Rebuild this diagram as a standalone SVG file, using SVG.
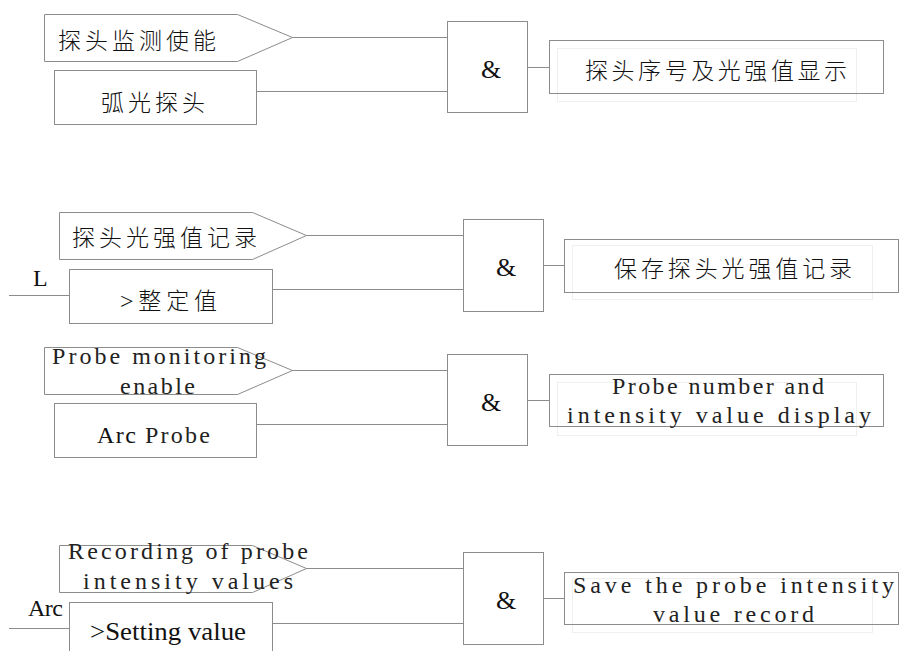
<svg xmlns="http://www.w3.org/2000/svg" width="899" height="651" viewBox="0 0 899 651">
<style>
.s{fill:#fff;stroke:#8c8c8c;stroke-width:1}
.f{fill:none;stroke:#efefef;stroke-width:1}
.w{fill:none;stroke:#8c8c8c;stroke-width:1}
.cn{font-family:"Noto Sans CJK SC","Noto Sans CJK TC",sans-serif;font-size:23px;font-weight:300;fill:#111}
.sr{font-family:"Liberation Serif","Times New Roman",serif;font-size:26px;fill:#111}
.mo{font-family:"Liberation Serif","Times New Roman",serif;font-size:24px;fill:#222}
</style>
<rect width="899" height="651" fill="#fff"/>
<g id="connectors">
<line class="w" x1="292" y1="37.5" x2="448" y2="37.5"/>
<line class="w" x1="256" y1="91.5" x2="448" y2="91.5"/>
<line class="w" x1="527" y1="67.5" x2="549" y2="67.5"/>
<line class="w" x1="306" y1="235.5" x2="463" y2="235.5"/>
<line class="w" x1="9" y1="295.5" x2="69" y2="295.5"/>
<line class="w" x1="272" y1="289.5" x2="463" y2="289.5"/>
<line class="w" x1="543" y1="265.5" x2="564" y2="265.5"/>
<line class="w" x1="292" y1="370.5" x2="448" y2="370.5"/>
<line class="w" x1="256" y1="424.5" x2="448" y2="424.5"/>
<line class="w" x1="527" y1="400.5" x2="549" y2="400.5"/>
<line class="w" x1="306" y1="568.5" x2="463" y2="568.5"/>
<line class="w" x1="9" y1="628.5" x2="69" y2="628.5"/>
<line class="w" x1="272" y1="623.5" x2="463" y2="623.5"/>
<line class="w" x1="543" y1="598.5" x2="564" y2="598.5"/>
</g>
<g id="n1-enable">
<polygon class="s" points="44.5,14.5 237.5,14.5 292.5,37.5 237.5,61.5 44.5,61.5"/>
<text class="cn" x="58" y="49" textLength="158" lengthAdjust="spacing">探头监测使能</text>
</g>
<g id="n1-arc">
<rect class="s" x="54.5" y="70.5" width="202" height="54"/>
<text class="cn" x="101" y="111" textLength="104" lengthAdjust="spacing">弧光探头</text>
</g>
<g id="n1-and">
<rect class="s" x="447.5" y="21.5" width="80" height="91"/>
<text class="sr" x="481" y="78">&amp;</text>
</g>
<g id="n1-out">
<rect class="f" x="557.5" y="48.5" width="299" height="53"/>
<rect class="s" x="549.5" y="40.5" width="334" height="53" fill-opacity="0"/>
<text class="cn" x="585" y="79" textLength="262" lengthAdjust="spacing">探头序号及光强值显示</text>
</g>
<g id="n2-record">
<polygon class="s" points="59.5,212.5 252.5,212.5 306.5,235.5 252.5,259.5 59.5,259.5"/>
<text class="cn" x="72" y="246" textLength="185" lengthAdjust="spacing">探头光强值记录</text>
</g>
<g id="n2-L">
<text class="sr" x="33" y="286" style="font-size:24px">L</text>
</g>
<g id="n2-set">
<rect class="s" x="69.5" y="269.5" width="203" height="54"/>
<text class="cn" x="120" y="309" textLength="97" lengthAdjust="spacing"><tspan class="sr" style="font-size:24px">&gt;</tspan>整定值</text>
</g>
<g id="n2-and">
<rect class="s" x="463.5" y="219.5" width="80" height="92"/>
<text class="sr" x="496" y="276">&amp;</text>
</g>
<g id="n2-out">
<rect class="f" x="572.5" y="245.5" width="300" height="54"/>
<rect class="s" x="564.5" y="239.5" width="334" height="53" fill-opacity="0"/>
<text class="cn" x="614" y="277" textLength="238" lengthAdjust="spacing">保存探头光强值记录</text>
</g>
<g id="n3-enable">
<polygon class="s" points="44.5,347.5 237.5,347.5 292.5,370.5 237.5,394.5 44.5,394.5"/>
<text class="mo" x="52" y="364" textLength="214" lengthAdjust="spacing">Probe monitoring</text>
<text class="mo" x="120" y="394" textLength="75" lengthAdjust="spacing">enable</text>
</g>
<g id="n3-arc">
<rect class="s" x="54.5" y="403.5" width="202" height="54"/>
<text class="sr" x="97" y="443" style="font-size:24px" textLength="39" lengthAdjust="spacing">Arc</text>
<text class="mo" x="145" y="443" textLength="65" lengthAdjust="spacing">Probe</text>
</g>
<g id="n3-and">
<rect class="s" x="447.5" y="354.5" width="80" height="91"/>
<text class="sr" x="481" y="411">&amp;</text>
</g>
<g id="n3-out">
<rect class="f" x="557.5" y="382.5" width="299" height="53"/>
<rect class="s" x="549.5" y="374.5" width="334" height="52" fill-opacity="0"/>
<text class="mo" x="612" y="394" textLength="212" lengthAdjust="spacing">Probe number and</text>
<text class="mo" x="567" y="423" textLength="304" lengthAdjust="spacing">intensity value display</text>
</g>
<g id="n4-record">
<polygon class="s" points="59.5,545.5 252.5,545.5 306.5,568.5 252.5,592.5 59.5,592.5"/>
<text class="mo" x="68" y="559" textLength="240" lengthAdjust="spacing">Recording of probe</text>
<text class="mo" x="83" y="589" textLength="210" lengthAdjust="spacing">intensity values</text>
</g>
<g id="n4-arc">
<text class="sr" x="28" y="616" style="font-size:24px" textLength="35" lengthAdjust="spacing">Arc</text>
</g>
<g id="n4-set">
<rect class="s" x="69.5" y="602.5" width="203" height="54"/>
<text class="sr" x="90" y="640" textLength="156" lengthAdjust="spacingAndGlyphs">&gt;Setting value</text>
</g>
<g id="n4-and">
<rect class="s" x="463.5" y="552.5" width="80" height="92"/>
<text class="sr" x="496" y="609">&amp;</text>
</g>
<g id="n4-out">
<rect class="f" x="572.5" y="578.5" width="300" height="54"/>
<rect class="s" x="564.5" y="572.5" width="334" height="52" fill-opacity="0"/>
<text class="mo" x="573" y="593" textLength="321" lengthAdjust="spacing">Save the probe intensity</text>
<text class="mo" x="653" y="622" textLength="161" lengthAdjust="spacing">value record</text>
</g>
</svg>
